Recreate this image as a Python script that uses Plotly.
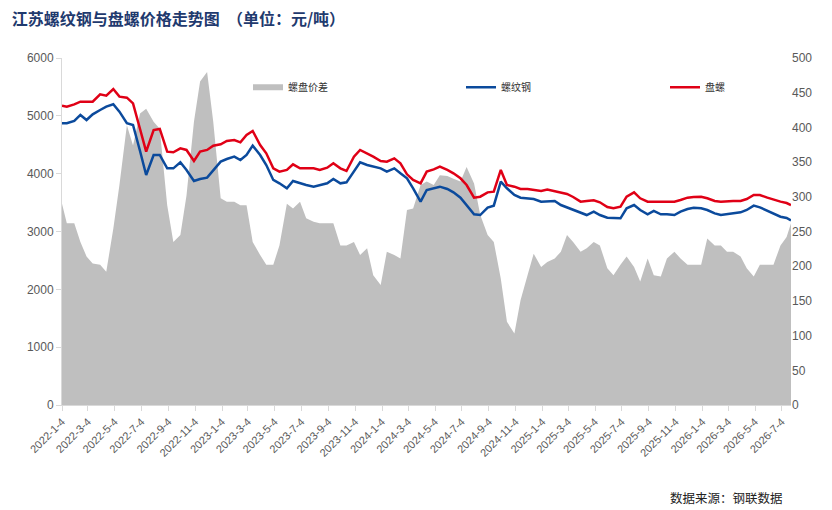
import pandas as pd
import plotly.graph_objects as go

# semi-monthly sample dates
dates = ["2022-01-04"] + [d.strftime("%Y-%m-%d") for d in pd.date_range("2022-01-15", "2026-07-15", freq="SMS")] + ["2026-07-25"]

# 盘螺 (元/吨)
panluo = [5176, 5159, 5199, 5245, 5245, 5245, 5372, 5349, 5464, 5332, 5314, 5216,
          4773, 4381, 4755, 4773, 4381, 4369, 4438, 4410, 4219, 4381, 4410, 4484,
          4507, 4565, 4582, 4542, 4669, 4738, 4496, 4352, 4092, 4035, 4064, 4162,
          4092, 4092, 4092, 4064, 4104, 4179, 4092, 4046, 4294, 4410, 4352, 4294,
          4219, 4208, 4265, 4179, 3989, 3891, 3833, 4035, 4075, 4121, 4064, 4006,
          3920, 3804, 3585, 3602, 3677, 3689, 4064, 3804, 3775, 3735, 3735, 3718,
          3700, 3724, 3700, 3677, 3649, 3597, 3516, 3528, 3539, 3505, 3424, 3401,
          3430, 3602, 3677, 3574, 3516, 3516, 3516, 3505, 3516, 3545, 3585, 3597,
          3602, 3574, 3528, 3516, 3528, 3528, 3528, 3562, 3631, 3631, 3585, 3551,
          3516, 3493, 3458]

# 螺纹钢 (元/吨)
luowen = [4871, 4871, 4911, 5015, 4928, 5026, 5101, 5159, 5199, 5072, 4871, 4842,
          4392, 3977, 4323, 4323, 4092, 4092, 4196, 4064, 3873, 3908, 3931, 4064,
          4208, 4254, 4294, 4236, 4323, 4484, 4323, 4150, 3891, 3833, 3747, 3873,
          3833, 3804, 3775, 3804, 3833, 3908, 3833, 3850, 4035, 4196, 4150, 4121,
          4092, 4035, 4092, 4006, 3920, 3747, 3516, 3718, 3747, 3775, 3735, 3677,
          3585, 3458, 3297, 3285, 3412, 3447, 3862, 3747, 3631, 3585, 3568, 3562,
          3516, 3516, 3528, 3458, 3418, 3372, 3332, 3285, 3343, 3285, 3239, 3228,
          3228, 3401, 3458, 3372, 3297, 3355, 3297, 3297, 3285, 3343, 3389, 3412,
          3401, 3372, 3314, 3285, 3297, 3314, 3332, 3372, 3447, 3418, 3355, 3308,
          3256, 3233, 3193]

# 螺盘价差 (右轴)
spread = [290, 262, 262, 235, 214, 204, 202, 192, 254, 317, 403, 374,
          420, 427, 408, 398, 288, 235, 245, 302, 408, 466, 480, 408,
          298, 293, 293, 288, 288, 235, 216, 202, 202, 230, 290, 283,
          293, 269, 264, 262, 262, 262, 230, 230, 235, 216, 226, 187,
          173, 221, 216, 211, 281, 283, 317, 322, 317, 331, 330, 326,
          322, 343, 319, 274, 245, 235, 182, 120, 103, 151, 187, 218,
          199, 206, 211, 221, 245, 235, 221, 226, 235, 230, 197, 187,
          202, 214, 199, 178, 211, 187, 185, 211, 221, 211, 202, 202,
          202, 240, 230, 230, 221, 221, 214, 197, 185, 202, 202, 202,
          230, 242, 262]

tick_dates = [f"{y}-{m:02d}-04" for y in range(2022, 2027) for m in range(1, 13, 2)][:28]
tick_text = [f"{d[:4]}-{int(d[5:7])}-4" for d in tick_dates]

fig = go.Figure()

# gray area on primary (right) axis so the lines on y2 are drawn over it
fig.add_trace(go.Scatter(
    name='螺盘价差', x=dates, y=spread,
    mode='none', fill='tozeroy', fillcolor='#BFBFBF',
    yaxis='y', legend='legend'))

fig.add_trace(go.Scatter(
    name='螺纹钢', x=dates, y=luowen,
    mode='lines', line=dict(color='#0B4A9C', width=2.5),
    yaxis='y2', legend='legend2'))

fig.add_trace(go.Scatter(
    name='盘螺', x=dates, y=panluo,
    mode='lines', line=dict(color='#E00016', width=2.5),
    yaxis='y2', legend='legend3'))

axis_font = dict(family='Liberation Sans, Arial', size=12, color='#595959')
leg_font = dict(family='Noto Sans CJK SC', size=10, color='#333333')

def legend_at(px):
    return dict(x=(px - 62) / 729, y=0.916, xanchor='left', yanchor='middle',
                orientation='h', itemwidth=30, font=leg_font,
                bgcolor='rgba(0,0,0,0)')

fig.update_layout(
    width=832, height=510,
    margin=dict(l=62, r=41, t=58, b=105),
    plot_bgcolor='white', paper_bgcolor='white',
    title=dict(
        text='江苏螺纹钢与盘螺价格走势图  （单位：元/吨）',
        font=dict(family='Noto Sans CJK SC', size=16, color='#1F3A6E', weight='bold'),
        xref='container', x=0.014, xanchor='left',
        yref='container', y=0.962, yanchor='middle'),
    xaxis=dict(
        type='date', range=['2022-01-04', '2026-07-25'],
        tickvals=tick_dates, ticktext=tick_text, tickangle=-45,
        tickfont=dict(family='Liberation Sans, Arial', size=11, color='#595959'),
        showgrid=False, showline=True, linecolor='#D9D9D9', linewidth=1,
        ticks='outside', ticklen=5, tickcolor='#D9D9D9'),
    yaxis=dict(
        side='right', range=[0, 500], dtick=50,
        tickfont=axis_font, showgrid=False, zeroline=False,
        showline=False, ticks=''),
    yaxis2=dict(
        side='left', overlaying='y', range=[0, 6000], dtick=1000,
        tickfont=axis_font, showgrid=False, zeroline=False,
        showline=True, linecolor='#D9D9D9', linewidth=1,
        ticks='outside', ticklen=5, tickcolor='#D9D9D9'),
    legend=legend_at(248),
    legend2=legend_at(461),
    legend3=legend_at(665),
    showlegend=True,
)

fig.add_annotation(
    text='数据来源：钢联数据', xref='paper', yref='paper',
    x=(785 - 62) / 729, y=-(497 - 405) / 347, xanchor='right', yanchor='middle',
    showarrow=False, font=dict(family='Noto Sans CJK SC', size=12.5, color='#222222'))

# drop the page's default body margin so the figure sits at the window's corner
fig.write_html("out.html", config={'displayModeBar': False},
               post_script="document.body.style.margin='0';")
